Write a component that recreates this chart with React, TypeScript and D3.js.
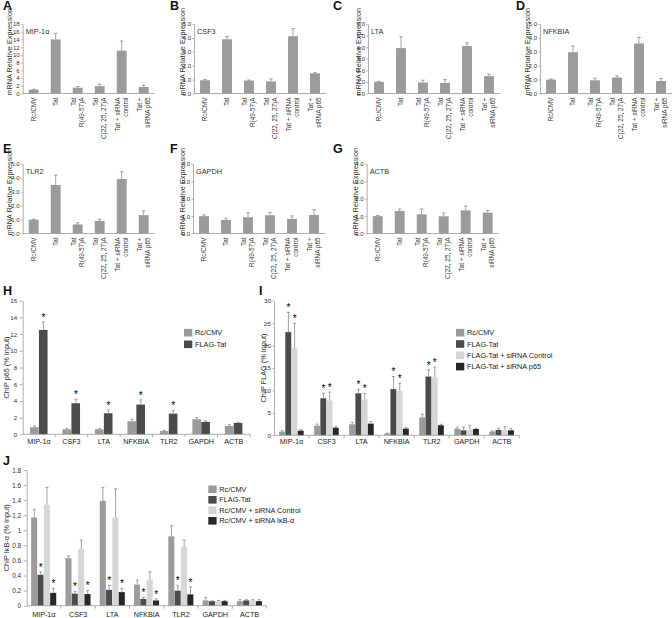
import React, { useEffect, useRef } from "react";
import * as d3 from "d3";

const FONT = "'Liberation Sans', Arial, Helvetica, sans-serif";

// ---------- mRNA panels (A–G) ----------
const mrnaCategories: string[][] = [
  ["Rc/CMV"],
  ["Tat"],
  ["Tat", "R(49-57)A"],
  ["Tat", "C(22, 25, 27)A"],
  ["Tat + siRNA", "control"],
  ["Tat +", "siRNA p65"],
];

const mipValues = [1.0, 14.0, 1.5, 1.9, 11.1, 1.7];
const mipErrors = [0.1, 1.6, 0.3, 0.5, 2.5, 0.4];
const csf3Values = [0.95, 3.9, 0.93, 0.87, 4.12, 1.45];
const csf3Errors = [0.05, 0.2, 0.04, 0.18, 0.55, 0.05];
const ltaValues = [1.0, 3.92, 0.95, 0.92, 4.09, 1.5];
const ltaErrors = [0.05, 0.98, 0.2, 0.28, 0.28, 0.17];
const nfkbiaValues = [1.0, 2.97, 0.95, 1.15, 3.6, 0.9];
const nfkbiaErrors = [0.04, 0.45, 0.15, 0.12, 0.43, 0.18];
const tlr2Values = [1.0, 3.49, 0.65, 0.91, 3.92, 1.32];
const tlr2Errors = [0.03, 0.71, 0.12, 0.12, 0.53, 0.31];
const gapdhValues = [1.0, 0.78, 0.94, 1.05, 0.84, 1.07];
const gapdhErrors = [0.07, 0.1, 0.25, 0.16, 0.17, 0.3];
const actbValues = [1.0, 1.3, 1.1, 0.99, 1.33, 1.2];
const actbErrors = [0.04, 0.11, 0.31, 0.19, 0.25, 0.13];

// ---------- ChIP panels (H–J) ----------
const genes = ["MIP-1α", "CSF3", "LTA", "NFKBIA", "TLR2", "GAPDH", "ACTB"];

const seriesH = ["Rc/CMV", "FLAG-Tat"];
const hRcCmv = [0.85, 0.6, 0.6, 1.56, 0.4, 1.8, 1.0];
const hRcCmvErr = [0.15, 0.1, 0.08, 0.24, 0.08, 0.2, 0.16];
const hFlagTat = [12.5, 3.72, 2.52, 3.56, 2.48, 1.48, 1.36];
const hFlagTatErr = [0.95, 0.48, 0.4, 0.56, 0.36, 0.12, 0.08];
const hStars = [[0, 0, 0, 0, 0, 0, 0], [1, 1, 1, 1, 1, 0, 0]];

const seriesI = ["Rc/CMV", "FLAG-Tat", "FLAG-Tat + siRNA Control", "FLAG-Tat + siRNA p65"];
const iRcCmv = [0.82, 2.15, 2.45, 0.37, 4.0, 1.49, 0.82];
const iRcCmvErr = [0.22, 0.35, 0.45, 0.13, 0.7, 0.37, 0.15];
const iFlagTat = [23.0, 8.25, 9.36, 10.3, 13.1, 1.11, 1.19];
const iFlagTatErr = [4.4, 1.1, 0.9, 2.8, 1.5, 0.75, 0.37];
const iSiControl = [19.4, 7.73, 8.0, 9.9, 12.9, 1.26, 1.19];
const iSiControlErr = [5.6, 1.9, 1.3, 1.7, 2.3, 0.97, 0.74];
const iSiP65 = [1.04, 1.7, 2.6, 1.49, 2.23, 1.41, 1.11];
const iSiP65Err = [0.22, 0.23, 0.5, 0.21, 0.22, 0.15, 0.38];
const iStars = [[0, 0, 0, 0, 0, 0, 0], [1, 1, 1, 1, 1, 0, 0], [1, 1, 1, 1, 1, 0, 0], [0, 0, 0, 0, 0, 0, 0]];

const seriesJ = ["Rc/CMV", "FLAG-Tat", "Rc/CMV + siRNA Control", "Rc/CMV + siRNA IκB-α"];
const jRcCmv = [1.17, 0.63, 1.39, 0.28, 0.92, 0.07, 0.06];
const jRcCmvErr = [0.11, 0.03, 0.18, 0.06, 0.14, 0.04, 0.02];
const jFlagTat = [0.41, 0.16, 0.21, 0.09, 0.2, 0.06, 0.07];
const jFlagTatErr = [0.04, 0.03, 0.06, 0.02, 0.07, 0.005, 0.01];
const jSiControl = [1.34, 0.75, 1.17, 0.34, 0.78, 0.06, 0.07];
const jSiControlErr = [0.23, 0.12, 0.38, 0.11, 0.09, 0.01, 0.01];
const jSiIkb = [0.17, 0.155, 0.18, 0.07, 0.15, 0.06, 0.06];
const jSiIkbErr = [0.06, 0.045, 0.05, 0.02, 0.1, 0.01, 0.02];
const jStars = [[0, 0, 0, 0, 0, 0, 0], [1, 1, 1, 1, 1, 0, 0], [0, 0, 0, 0, 0, 0, 0], [1, 1, 1, 1, 1, 0, 0]];

const seriesColors = ["#9b9b9b", "#4b4b4b", "#d6d6d6", "#272727"];
const AXIS = "#9a9a9a";
const ERR = "#8a8a8a";

function YAxis({ scale, x, ticks, size, pad, fs, fmt }: any) {
  const ref = useRef<SVGGElement>(null);
  useEffect(() => {
    const g = d3.select(ref.current as SVGGElement);
    const ax = d3.axisLeft(scale).tickValues(ticks).tickSize(size).tickSizeOuter(0).tickPadding(pad);
    if (fmt) ax.tickFormat(fmt);
    g.call(ax as any);
    g.attr("font-family", FONT).attr("font-size", fs);
    g.select(".domain").attr("stroke", AXIS).attr("stroke-width", 0.8);
    g.selectAll(".tick line").attr("stroke", AXIS).attr("stroke-width", 0.8);
    g.selectAll(".tick text").attr("fill", "#333");
  });
  return <g ref={ref} transform={`translate(${x},0)`} />;
}

function ErrorBar({ cx, y0, y1, cap }: any) {
  return (
    <g stroke={ERR} strokeWidth={0.8}>
      <line x1={cx} x2={cx} y1={y0} y2={y1} />
      <line x1={cx - cap} x2={cx + cap} y1={y1} y2={y1} />
    </g>
  );
}

function MrnaPanel(p: any) {
  const width = 132;
  const y = d3.scaleLinear().domain([0, p.max]).range([p.yBot, p.yTop]);
  const x = d3
    .scaleBand<number>()
    .domain(d3.range(mrnaCategories.length))
    .range([p.axisX, p.axisX + width])
    .paddingInner(0.55)
    .paddingOuter(0.275);
  const ticks = d3.range(0, p.max + 0.001, p.step);
  const bw = x.bandwidth();
  return (
    <g>
      <text x={p.letterX} y={p.letterY} fontWeight="bold" fontSize={12.5} fill="#111">
        {p.letter}
      </text>
      <text
        transform={`translate(${p.labelX},${(p.yTop + p.yBot) / 2 - 7}) rotate(-90)`}
        textAnchor="middle"
        dy="0.35em"
        fontSize={7.3}
        fill="#333"
      >
        mRNA Relative Expression
      </text>
      <text x={p.axisX + 3} y={p.yTop + 10} fontSize={7.3} fill="#333">
        {p.title}
      </text>
      {p.values.map((v: number, i: number) => (
        <rect key={i} x={x(i)} width={bw} y={y(v)} height={p.yBot - y(v)} fill="#9b9b9b" />
      ))}
      {p.values.map((v: number, i: number) => (
        <ErrorBar key={i} cx={(x(i) as number) + bw / 2} y0={y(v)} y1={y(v + p.errors[i])} cap={1.8} />
      ))}
      <YAxis scale={y} x={p.axisX} ticks={ticks} size={1.5} pad={1.5} fs={6} />
      <line x1={p.axisX} x2={p.axisX + width} y1={p.yBot} y2={p.yBot} stroke={AXIS} strokeWidth={0.8} />
      {mrnaCategories.map((lines, i) => {
        const cx = (x(i) as number) + bw / 2;
        return lines.map((ln, k) => (
          <text
            key={`${i}-${k}`}
            transform={`translate(${cx + (k - (lines.length - 1) / 2) * 8.3},${p.yBot + 4}) rotate(-90)`}
            textAnchor="end"
            dy="0.35em"
            fontSize={6.4}
            fill="#333"
          >
            {ln}
          </text>
        ));
      })}
    </g>
  );
}

function GroupPanel(p: any) {
  const y = d3.scaleLinear().domain([0, p.max]).range([p.yBot, p.yTop]);
  const x0 = d3.scaleBand<string>().domain(genes).range([p.axisX, p.axisEnd]).paddingInner(p.pad).paddingOuter(p.pad / 2);
  const x1 = d3
    .scaleBand<number>()
    .domain(d3.range(p.series.length))
    .range([0, x0.bandwidth()]);
  const ticks = d3.range(0, p.max + 0.0001, p.step);
  const bw = x1.bandwidth();
  const step = x0.step();
  return (
    <g>
      <text x={p.letterX} y={p.letterY} fontWeight="bold" fontSize={12.5} fill="#111">
        {p.letter}
      </text>
      <text
        transform={`translate(${p.labelX},${(p.yTop + p.yBot) / 2}) rotate(-90)`}
        textAnchor="middle"
        dy="0.35em"
        fontSize={7.3}
        fill="#333"
      >
        {p.ylabel}
      </text>
      {p.data.map((vals: number[], s: number) =>
        vals.map((v, g) => {
          const bx = (x0(genes[g]) as number) + (x1(s) as number);
          return <rect key={`${s}-${g}`} x={bx} width={bw - 0.3} y={y(v)} height={p.yBot - y(v)} fill={seriesColors[s]} />;
        })
      )}
      {p.data.map((vals: number[], s: number) =>
        vals.map((v, g) => {
          const cx = (x0(genes[g]) as number) + (x1(s) as number) + bw / 2;
          const top = y(v + p.errs[s][g]);
          return (
            <g key={`e${s}-${g}`}>
              <ErrorBar cx={cx} y0={y(v)} y1={top} cap={1.5} />
              {p.stars[s][g] ? (
                <text x={cx} y={top - 1.2} textAnchor="middle" fontSize={10} fill="#000">
                  *
                </text>
              ) : null}
            </g>
          );
        })
      )}
      <YAxis scale={y} x={p.axisX} ticks={ticks} size={p.tickSize} pad={p.tickPad} fs={p.tickFs} fmt={p.fmt} />
      <line x1={p.axisX} x2={p.axisEnd} y1={p.yBot} y2={p.yBot} stroke={AXIS} strokeWidth={0.8} />
      {d3.range(1, genes.length + 1).map((k) => (
        <line
          key={k}
          x1={p.axisX + k * step}
          x2={p.axisX + k * step}
          y1={p.yBot}
          y2={p.yBot + 3}
          stroke={AXIS}
          strokeWidth={0.8}
        />
      ))}
      {genes.map((gname) => (
        <text
          key={gname}
          x={(x0(gname) as number) + x0.bandwidth() / 2}
          y={p.xLabelY}
          textAnchor="middle"
          fontSize={7.2}
          fill="#222"
        >
          {gname}
        </text>
      ))}
      {p.series.map((name: string, s: number) => {
        const cy = p.legendY0 + s * p.legendStep;
        return (
          <g key={name}>
            <rect x={p.legendX} y={cy - 3.8} width={8.3} height={7.6} fill={seriesColors[s]} />
            <text x={p.legendX + 11} y={cy} dy="0.35em" fontSize={7.3} fill="#222">
              {name}
            </text>
          </g>
        );
      })}
    </g>
  );
}

const fmtJ = (d: number) => String(+d.toFixed(1));

export default function App() {
  return (
    <svg
      width={672}
      height={618}
      style={{ position: "absolute", left: 0, top: 0, background: "#fff" }}
      fontFamily={FONT}
    >
      <rect width={672} height={618} fill="#fff" />
      <MrnaPanel letter="A" letterX={3} letterY={10} title="MIP-1α" values={mipValues} errors={mipErrors} max={18} step={2} axisX={22.7} yTop={24} yBot={93.5} labelX={9} />
      <MrnaPanel letter="B" letterX={170} letterY={10} title="CSF3" values={csf3Values} errors={csf3Errors} max={5} step={1} axisX={194} yTop={24} yBot={93.5} labelX={182} />
      <MrnaPanel letter="C" letterX={333} letterY={10} title="LTA" values={ltaValues} errors={ltaErrors} max={6} step={1} axisX={368} yTop={24} yBot={93.5} labelX={358} />
      <MrnaPanel letter="D" letterX={516} letterY={10} title="NFKBIA" values={nfkbiaValues} errors={nfkbiaErrors} max={5} step={1} axisX={540} yTop={24} yBot={93.5} labelX={527} />
      <MrnaPanel letter="E" letterX={3} letterY={153} title="TLR2" values={tlr2Values} errors={tlr2Errors} max={5} step={1} axisX={22.7} yTop={164} yBot={233.5} labelX={9} />
      <MrnaPanel letter="F" letterX={170} letterY={153} title="GAPDH" values={gapdhValues} errors={gapdhErrors} max={4} step={1} axisX={193} yTop={164} yBot={233.5} labelX={182} />
      <MrnaPanel letter="G" letterX={333} letterY={153} title="ACTB" values={actbValues} errors={actbErrors} max={4} step={1} axisX={366.7} yTop={164} yBot={233.5} labelX={355} />

      <GroupPanel
        letter="H" letterX={3} letterY={295} ylabel="ChIP p65 (% Input)" labelX={6.5}
        series={seriesH} data={[hRcCmv, hFlagTat]} errs={[hRcCmvErr, hFlagTatErr]} stars={hStars}
        max={16} step={2} axisX={22.7} axisEnd={250} yTop={300.7} yBot={434.3} pad={0.45}
        tickSize={3} tickPad={2.5} tickFs={6.2}
        xLabelY={444.3} legendX={184} legendY0={332.7} legendStep={11.6}
      />
      <GroupPanel
        letter="I" letterX={259} letterY={295} ylabel="ChIP FLAG (% Input)" labelX={263.5}
        series={seriesI} data={[iRcCmv, iFlagTat, iSiControl, iSiP65]} errs={[iRcCmvErr, iFlagTatErr, iSiControlErr, iSiP65Err]} stars={iStars}
        max={30} step={5} axisX={274} axisEnd={519.3} yTop={300.7} yBot={435.3} pad={0.29}
        tickSize={1.5} tickPad={1.5} tickFs={6.2}
        xLabelY={444.3} legendX={456} legendY0={332.7} legendStep={11.3}
      />
      <GroupPanel
        letter="J" letterX={3} letterY={465} ylabel="ChIP IκB-α (% Input)" labelX={6.7}
        series={seriesJ} data={[jRcCmv, jFlagTat, jSiControl, jSiIkb]} errs={[jRcCmvErr, jFlagTatErr, jSiControlErr, jSiIkbErr]} stars={jStars}
        max={1.8} step={0.2} fmt={fmtJ} axisX={26.7} axisEnd={266.7} yTop={470} yBot={605.7} pad={0.26}
        tickSize={3} tickPad={2.5} tickFs={6.5}
        xLabelY={616.6} legendX={208.3} legendY0={489.3} legendStep={10.5}
      />
    </svg>
  );
}
